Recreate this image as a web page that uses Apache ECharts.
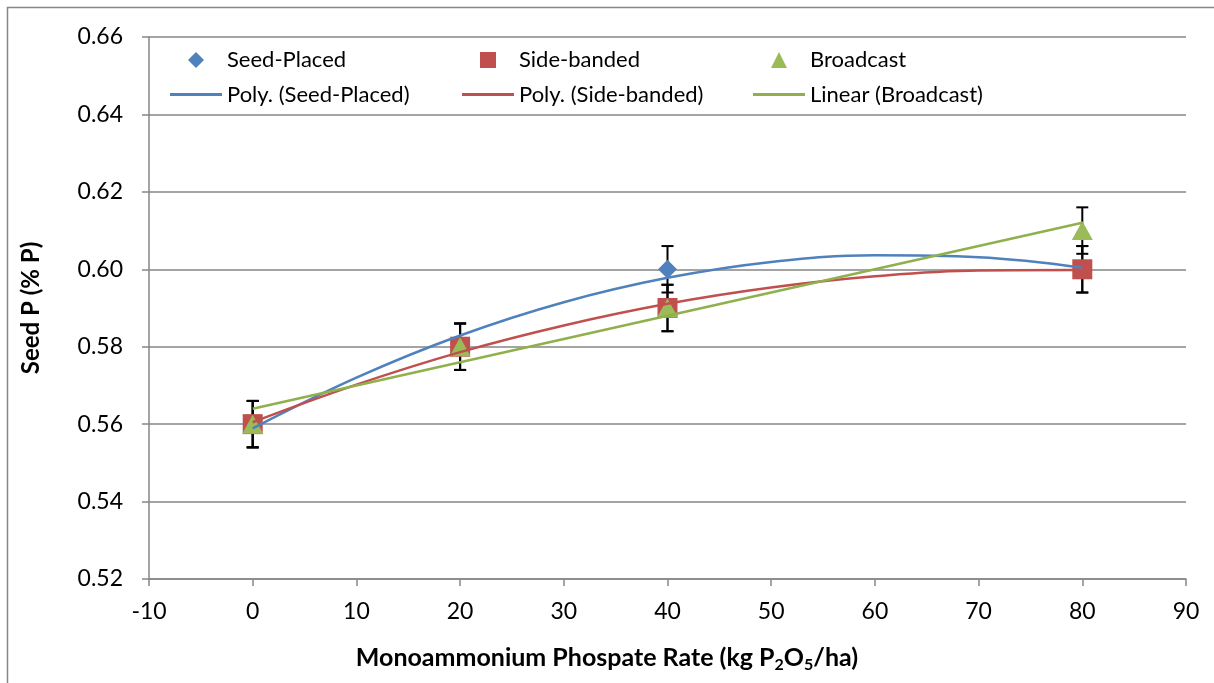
<!DOCTYPE html>
<html><head><meta charset="utf-8">
<script src="https://cdn.jsdelivr.net/npm/echarts@6/dist/echarts.min.js"></script>
<style>html,body{margin:0;padding:0;background:#fff}#c{width:1214px;height:683px}</style>
</head><body><div id="c"></div>
<script>
// Data
const rates = [0, 20, 40, 80];
const seedPlaced = [0.56, 0.58, 0.60, 0.60];
const sideBanded = [0.56, 0.58, 0.59, 0.60];
const broadcast = [0.56, 0.58, 0.59, 0.61];
const seedErr = [0.006, 0.006, 0.006, 0.006];
const sideErr = [0.006, 0.006, 0.006, 0.006];
const broadErr = [0.006, 0.006, 0.006, 0.006];
// trendline curves
const trendX = [0, 10, 20, 30, 40, 50, 60, 70, 80];
const seedTrend = [0.5589, 0.5720, 0.5829, 0.5915, 0.5978, 0.6019, 0.6036, 0.6031, 0.6004];
const sideTrend = [0.5605, 0.5702, 0.5786, 0.5855, 0.5911, 0.5953, 0.5982, 0.5997, 0.5998];
const broadTrendX = [0, 80];
const broadTrend = [0.564, 0.612];

const FONT = 'Lato';
const BLUE = '#4F81BD', RED = '#C0504D', GREEN = '#9BBB59', GREEN_LINE = '#8FB04C';
const AXIS = '#868686';

function pairs(xs, ys) { return xs.map((x, i) => [x, ys[i]]); }
function triples(xs, ys, es) { return xs.map((x, i) => [x, ys[i], es[i]]); }

function errRender(params, api) {
  const x = api.value(0), y = api.value(1), e = api.value(2);
  const t = api.coord([x, y + e]), b = api.coord([x, y - e]);
  const hw = 6;
  const st = { stroke: '#000', lineWidth: 2 };
  return { type: 'group', children: [
    { type: 'line', shape: { x1: t[0], y1: t[1], x2: b[0], y2: b[1] }, style: st },
    { type: 'line', shape: { x1: t[0] - hw, y1: t[1], x2: t[0] + hw, y2: t[1] }, style: st },
    { type: 'line', shape: { x1: b[0] - hw, y1: b[1], x2: b[0] + hw, y2: b[1] }, style: st }
  ]};
}

const chart = echarts.init(document.getElementById('c'), null, { renderer: 'canvas' });
function symLegend(name, center, textX, cy, size) {
  const left = center - size / 2;
  return { data: [name], left: left, top: cy - size / 2, padding: 0, itemWidth: size, itemHeight: size,
           textStyle: { fontFamily: FONT, fontSize: 22, color: '#000', padding: [0, 0, 0, textX - (left + size + 5)] },
           selectedMode: false };
}
function lineLegend(name, left, cy, color) {
  return { data: [{ name: name, icon: 'rect', itemStyle: { color: color } }], left: left, top: cy - 1.5, padding: 0,
           itemWidth: 52, itemHeight: 3,
           textStyle: { fontFamily: FONT, fontSize: 22, color: '#000' }, selectedMode: false };
}
chart.setOption({
  animation: false,
  backgroundColor: '#fff',
  textStyle: { fontFamily: FONT },
  graphic: [{ type: 'rect', shape: { x: 7.5, y: 7.5, width: 1300, height: 800 },
              style: { fill: 'none', stroke: AXIS, lineWidth: 1.5 }, silent: true }],
  title: {
    text: '{a|Monoammonium Phospate Rate (kg P}{s|2}{a|O}{s|5}{a|/ha)}',
    left: 'center', top: 638,
    textStyle: { rich: {
      a: { fontFamily: FONT, fontSize: 25, fontWeight: 'bold', color: '#000' },
      s: { fontFamily: FONT, fontSize: 16, fontWeight: 'bold', color: '#000', padding: [14, 0, 0, 0] }
    } }
  },
  legend: [
    symLegend('Seed-Placed', 196, 227, 57, 16),
    symLegend('Side-banded', 488, 519, 57, 16),
    symLegend('Broadcast', 779, 810, 57, 16),
    lineLegend('Poly. (Seed-Placed)', 170, 85, BLUE),
    lineLegend('Poly. (Side-banded)', 462, 85, RED),
    lineLegend('Linear (Broadcast)', 753, 85, GREEN_LINE)
  ],
  grid: { left: 149, right: 28, top: 37, bottom: 104 },
  xAxis: {
    type: 'value', min: -10, max: 90, interval: 10,
    axisLine: { show: true, onZero: false, lineStyle: { color: AXIS, width: 1.5 } },
    axisTick: { show: true, length: 7, lineStyle: { color: AXIS, width: 1.5 } },
    axisLabel: { fontFamily: FONT, fontSize: 23, color: '#000', margin: 21 },
    splitLine: { show: false }
  },
  yAxis: {
    type: 'value', min: 0.52, max: 0.66, interval: 0.02,
    name: 'Seed P (% P)', nameLocation: 'middle', nameRotate: 90, nameGap: 106,
    nameTextStyle: { fontFamily: FONT, fontSize: 24, fontWeight: 'bold', color: '#000' },
    axisLine: { show: true, onZero: false, lineStyle: { color: AXIS, width: 1.5 } },
    axisTick: { show: true, length: 7, lineStyle: { color: AXIS, width: 1.5 } },
    axisLabel: { fontFamily: FONT, fontSize: 23, color: '#000', margin: 26,
                 formatter: v => v.toFixed(2) },
    splitLine: { show: true, lineStyle: { color: AXIS, width: 1.5 } }
  },
  series: [
    { type: 'custom', name: 'errSeed', renderItem: errRender, data: triples(rates, seedPlaced, seedErr), encode: { x: 0, y: 1 }, z: 1 },
    { type: 'custom', name: 'errSide', renderItem: errRender, data: triples(rates, sideBanded, sideErr), encode: { x: 0, y: 1 }, z: 1 },
    { type: 'custom', name: 'errBroad', renderItem: errRender, data: triples(rates, broadcast, broadErr), encode: { x: 0, y: 1 }, z: 1 },
    { type: 'scatter', name: 'Seed-Placed', data: pairs(rates, seedPlaced), symbol: 'diamond', symbolSize: 19,
      itemStyle: { color: BLUE, opacity: 1 }, z: 3 },
    { type: 'scatter', name: 'Side-banded', data: pairs(rates, sideBanded), symbol: 'rect', symbolSize: 20,
      itemStyle: { color: RED, opacity: 1 }, z: 4 },
    { type: 'scatter', name: 'Broadcast', data: pairs(rates, broadcast), symbol: 'triangle', symbolSize: [21, 19],
      itemStyle: { color: GREEN, opacity: 1 }, z: 5 },
    { type: 'line', name: 'Poly. (Seed-Placed)', data: pairs(trendX, seedTrend), smooth: 0.4, symbol: 'none',
      lineStyle: { color: BLUE, width: 2.5 }, itemStyle: { color: BLUE }, z: 6 },
    { type: 'line', name: 'Poly. (Side-banded)', data: pairs(trendX, sideTrend), smooth: 0.4, symbol: 'none',
      lineStyle: { color: RED, width: 2.5 }, itemStyle: { color: RED }, z: 6 },
    { type: 'line', name: 'Linear (Broadcast)', data: pairs(broadTrendX, broadTrend), symbol: 'none',
      lineStyle: { color: GREEN_LINE, width: 2.5 }, itemStyle: { color: GREEN_LINE }, z: 6 }
  ]
});
</script></body></html>
